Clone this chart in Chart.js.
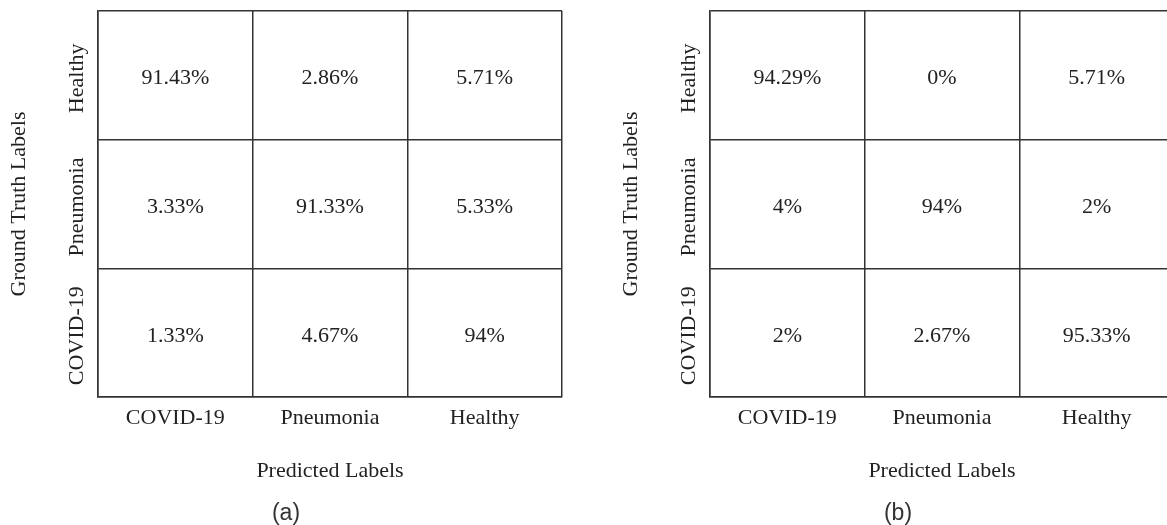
<!DOCTYPE html>
<html>
<head>
<meta charset="utf-8">
<script src="https://cdn.jsdelivr.net/npm/chart.js@4.4.1/dist/chart.umd.min.js"></script>
<style>
  html, body { margin: 0; padding: 0; background: #fff; overflow: hidden; }
  #wrap { position: relative; width: 1167px; height: 525px; overflow: hidden; }
  canvas { position: absolute; top: 0; }
  #cmA { left: 0; }
  #cmB { left: 612px; }
</style>
</head>
<body>
<div id="wrap">
  <canvas id="cmA" width="583" height="525"></canvas>
  <canvas id="cmB" width="583" height="525"></canvas>
</div>
<script>
// etiquetas
const predichas = ['COVID-19', 'Pneumonia', 'Healthy'];
const reales = ['Healthy', 'Pneumonia', 'COVID-19']; // de arriba a abajo

// matriz (a), una fila por etiqueta real
const healthyA = [91.43, 2.86, 5.71];
const pneumoniaA = [3.33, 91.33, 5.33];
const covidA = [1.33, 4.67, 94];

// matriz (b)
const healthyB = [94.29, 0, 5.71];
const pneumoniaB = [4, 94, 2];
const covidB = [2, 2.67, 95.33];

const SERIF = '"Liberation Serif", "Times New Roman", serif';
const LINEA = '#333';
const TEXTO = '#222';

function puntos(filas) {
    let data = [];
    filas.forEach((fila, r) => {
        fila.forEach((v, c) => data.push({ x: predichas[c], y: reales[r], v: v }));
    });
    return data;
}

// dibuja los porcentajes, las etiquetas verticales y el subtitulo
const textosMatriz = {
    id: 'textosMatriz',
    afterDatasetsDraw(chart, args, opts) {
        const ctx = chart.ctx;
        const meta = chart.getDatasetMeta(0);
        const datos = chart.data.datasets[0].data;
        ctx.save();
        ctx.fillStyle = TEXTO;
        ctx.font = '22px ' + SERIF;
        ctx.textAlign = 'center';
        ctx.textBaseline = 'alphabetic';
        meta.data.forEach((p, i) => ctx.fillText(datos[i].v + '%', p.x, p.y + 9));

        // etiquetas del eje y, giradas
        const ey = chart.scales.y;
        reales.forEach((lab, i) => {
            ctx.save();
            ctx.translate(ey.right - 15, ey.getPixelForTick(i) + 3);
            ctx.rotate(-Math.PI / 2);
            ctx.fillText(lab, 0, 0);
            ctx.restore();
        });

        ctx.font = '23px "Liberation Sans", Arial, sans-serif';
        ctx.fillStyle = '#333';
        ctx.fillText(opts.texto, chart.chartArea.left + 188, 520);
        ctx.restore();
    }
};

function crearMatriz(id, filas, subtitulo) {
    return new Chart(document.getElementById(id), {
        type: 'scatter',
        data: { datasets: [{ data: puntos(filas), pointRadius: 0, pointHoverRadius: 0 }] },
        options: {
            responsive: false,
            animation: false,
            events: [],
            layout: { padding: { left: 0, top: 11, right: 21, bottom: 0 } },
            plugins: {
                legend: { display: false },
                tooltip: { enabled: false },
                textosMatriz: { texto: subtitulo }
            },
            scales: {
                x: {
                    type: 'category',
                    labels: predichas,
                    offset: true,
                    grid: { offset: true, color: LINEA, lineWidth: 1.5, drawTicks: false },
                    border: { color: LINEA, width: 1.5 },
                    ticks: { color: TEXTO, font: { family: SERIF, size: 22 }, padding: 8, maxRotation: 0 },
                    title: { display: true, text: 'Predicted Labels', color: TEXTO, font: { family: SERIF, size: 22 }, padding: { top: 0, bottom: 41 } },
                    afterFit: s => { s.height = 128; }
                },
                y: {
                    type: 'category',
                    labels: reales,
                    offset: true,
                    grid: { offset: true, color: LINEA, lineWidth: 1.5, drawTicks: false },
                    border: { color: LINEA, width: 1.5 },
                    ticks: { display: false },
                    title: { display: true, text: 'Ground Truth Labels', color: TEXTO, font: { family: SERIF, size: 22 }, padding: { top: 6, bottom: 0 } },
                    afterFit: s => { s.width = 98; }
                }
            }
        },
        plugins: [textosMatriz]
    });
}

crearMatriz('cmA', [healthyA, pneumoniaA, covidA], '(a)');
crearMatriz('cmB', [healthyB, pneumoniaB, covidB], '(b)');
</script>
</body>
</html>
